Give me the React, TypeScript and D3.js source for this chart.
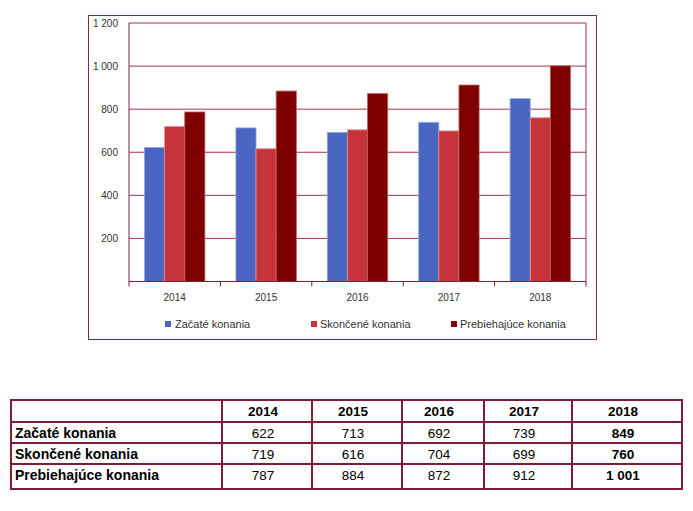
import React from "react";
import * as d3 from "d3";

const years = ["2014", "2015", "2016", "2017", "2018"];
const seriesNames = ["Začaté konania", "Skončené konania", "Prebiehajúce konania"];
const zacate = [622, 713, 692, 739, 849];
const skoncene = [719, 616, 704, 699, 760];
const prebiehajuce = [787, 884, 872, 912, 1001];
const tableLabels = ["622", "713", "692", "739", "849"];
const tableLabels2 = ["719", "616", "704", "699", "760"];
const tableLabels3 = ["787", "884", "872", "912", "1 001"];
const yTicks = [200, 400, 600, 800, 1000, 1200];

const colors = ["#4A66C0", "#C6333A", "#7E0000"];
const strokes = ["#93A4E0", "#E39096", "#B46060"];
const gridColor = "#A8324F";
const tableColor = "#7D1E35";

const fmt = (v: number) => {
  const s = String(v);
  return s.length > 3 ? s.slice(0, s.length - 3) + " " + s.slice(-3) : s;
};

export default function App() {
  const series = [zacate, skoncene, prebiehajuce];
  const left = 129, right = 586, top = 23, bottom = 281.5;
  const x = d3.scaleBand<string>().domain(years).range([left, right]).paddingInner(0).paddingOuter(0);
  const inner = d3.scaleBand<number>().domain([0, 1, 2]).range([15.5, x.bandwidth() - 15.5]).padding(0);
  const y = d3.scaleLinear().domain([0, 1200]).range([bottom, top]);

  const cols = [11, 222, 312, 402, 484, 572, 682];
  const rows = [400, 422, 443, 464, 489];
  const tableRows = [
    { label: seriesNames[0], vals: tableLabels },
    { label: seriesNames[1], vals: tableLabels2 },
    { label: seriesNames[2], vals: tableLabels3 },
  ];
  const legendX = [[165, 175], [311, 320], [451, 460]];

  return (
    <svg width={693} height={511} style={{ position: "absolute", left: 0, top: 0, fontFamily: "'Liberation Sans', Arial, sans-serif" }}>
      <rect x={0} y={0} width={693} height={511} fill="#fff" />
      {/* chart frame */}
      <rect x={88.5} y={15.5} width={508} height={324} fill="none" stroke="#8A2A40" strokeWidth={1} />
      {/* gridlines */}
      {yTicks.map((t) => (
        <line key={t} x1={left} x2={right} y1={y(t)} y2={y(t)} stroke={gridColor} strokeWidth={1} />
      ))}
      <line x1={right} x2={right} y1={top} y2={bottom} stroke={gridColor} />
      {/* bars */}
      {series.map((s, si) =>
        s.map((v, i) => (
          <rect
            key={si + "-" + i}
            x={(x(years[i]) as number) + (inner(si) as number)}
            y={y(v)}
            width={inner.bandwidth()}
            height={bottom - y(v)}
            fill={colors[si]}
            stroke={strokes[si]}
            strokeWidth={0.8}
          />
        ))
      )}
      {/* axes */}
      <line x1={left} x2={left} y1={top} y2={bottom + 5} stroke="#7A2035" />
      <line x1={left} x2={right} y1={bottom} y2={bottom} stroke="#7A2035" />
      {years.map((yr) => (
        <line key={"t" + yr} x1={(x(yr) as number) + x.bandwidth()} x2={(x(yr) as number) + x.bandwidth()} y1={bottom} y2={bottom + 5} stroke="#7A2035" />
      ))}
      {yTicks.map((t) => (
        <text key={"l" + t} x={118} y={y(t) + 3.5} textAnchor="end" fontSize={10} fill="#333">
          {fmt(t)}
        </text>
      ))}
      {years.map((yr) => (
        <text key={"x" + yr} x={(x(yr) as number) + x.bandwidth() / 2} y={301} textAnchor="middle" fontSize={10} fill="#333">
          {yr}
        </text>
      ))}
      {/* legend */}
      {seriesNames.map((n, i) => (
        <g key={n}>
          <rect x={legendX[i][0]} y={321} width={6} height={6} fill={colors[i]} />
          <text x={legendX[i][1]} y={328} fontSize={11} fill="#333">
            {n}
          </text>
        </g>
      ))}
      {/* table */}
      <rect x={cols[0]} y={rows[0]} width={cols[6] - cols[0]} height={rows[4] - rows[0]} fill="none" stroke={tableColor} strokeWidth={2} />
      {rows.slice(1, 4).map((r) => (
        <line key={"r" + r} x1={cols[0]} x2={cols[6]} y1={r} y2={r} stroke={tableColor} strokeWidth={2} />
      ))}
      {cols.slice(1, 6).map((c) => (
        <line key={"c" + c} x1={c} x2={c} y1={rows[0]} y2={rows[4]} stroke={tableColor} strokeWidth={2} />
      ))}
      {years.map((yr, i) => (
        <text key={"h" + yr} x={(cols[i + 1] + cols[i + 2]) / 2 - 4} y={416} textAnchor="middle" fontSize={13.5} fontWeight="bold" fill="#000">
          {yr}
        </text>
      ))}
      {tableRows.map((row, ri) => (
        <g key={row.label}>
          <text x={15} y={rows[ri + 1] + 16} fontSize={14} fontWeight="bold" fill="#000">
            {row.label}
          </text>
          {row.vals.map((v, ci) => (
            <text
              key={ci}
              x={(cols[ci + 1] + cols[ci + 2]) / 2 - 4}
              y={rows[ri + 1] + 16}
              textAnchor="middle"
              fontSize={13.5}
              fontWeight={ci === 4 ? "bold" : "normal"}
              fill="#000"
            >
              {v}
            </text>
          ))}
        </g>
      ))}
    </svg>
  );
}
